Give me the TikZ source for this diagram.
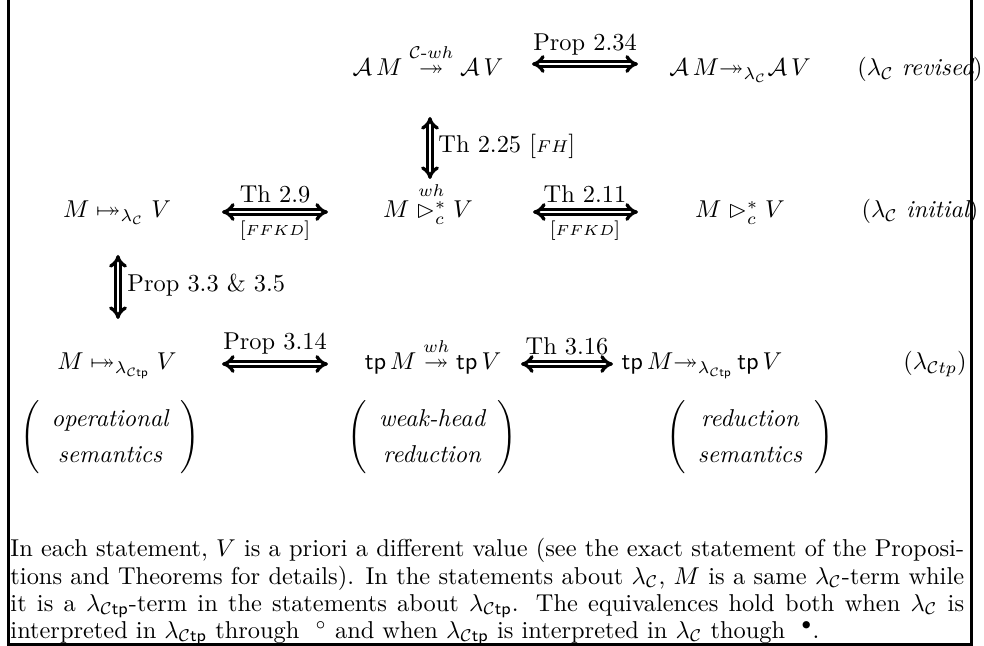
\documentclass[tikz,border=0pt]{standalone}
\usepackage{amsmath,amssymb}
\usetikzlibrary{arrows.meta}
\newcommand{\lamC}{\lambda_{\mathcal{C}}}
\newcommand{\lamCtp}{\lambda_{\mathcal{C}\mathsf{tp}}}
\newcommand{\twomapsto}{\mathrel{\mapstochar\twoheadrightarrow}}
\newcommand{\refl}[1]{{\footnotesize$[{\scriptstyle #1}]$}}
\tikzset{
  txt/.style={inner sep=0pt, anchor=base},
  lbl/.style={inner sep=0pt, anchor=base west},
  eqarr/.style={double, double distance=0.9pt, line width=1.35pt, {Implies}-{Implies}},
  paren/.style={inner sep=0pt, anchor=center},
  frame/.style={line width=1.2pt}
}
\begin{document}
\begin{tikzpicture}[x=0.41pt,y=-0.41pt]
\useasboundingbox (0,0) rectangle (984,646);
% row 1
\node[txt] (r1c3) at (428,76) {$\mathcal{A}\,M \stackrel{\mathcal{C}\text{-}wh}{\twoheadrightarrow} \mathcal{A}\,V$};
\node[txt] (r1c5) at (740,76) {$\mathcal{A}\,M{\twoheadrightarrow_{\lamC}}\mathcal{A}\,V$};
\node[txt] (r1c6) at (920,76) {$(\lamC~\textit{revised})$};
\coordinate (a1l) at (532,64); \coordinate (a1r) at (638,64);
\draw[eqarr] (a1l) -- (a1r);
\node[txt] (l1) at (585,51) {Prop 2.34};
% vertical Th 2.25
\coordinate (v1t) at (430,117); \coordinate (v1b) at (430,179);
\draw[eqarr] (v1t) -- (v1b);
\node[lbl] (lv1) at (438,153) {Th 2.25 $[{\scriptstyle FH}]$};
% row 2
\node[txt] (r2c1) at (117,218) {$M \twomapsto_{\lamC} V$};
\coordinate (a2l) at (222,212); \coordinate (a2r) at (328,212);
\draw[eqarr] (a2l) -- (a2r);
\node[txt] (l2a) at (275,203) {Th 2.9};
\node[txt] (l2b) at (275,236) {\refl{FFKD}};
\node[txt] (r2c3) at (428,218) {$M \stackrel{wh}{\rhd^*_c} V$};
\coordinate (a3l) at (533,212); \coordinate (a3r) at (638,212);
\draw[eqarr] (a3l) -- (a3r);
\node[txt] (l3a) at (585,203) {Th 2.11};
\node[txt] (l3b) at (585,236) {\refl{FFKD}};
\node[txt] (r2c5) at (740,218) {$M \mathrel{\rhd^*_c} V$};
\node[txt] (r2c6) at (920,218) {$(\lamC~\textit{initial})$};
% vertical Prop 3.3
\coordinate (v2t) at (118,255); \coordinate (v2b) at (118,319);
\draw[eqarr] (v2t) -- (v2b);
\node[lbl] (lv2) at (127,292) {Prop 3.3 \& 3.5};
% row 3
\node[txt] (r3c1) at (117,370) {$M \twomapsto_{\lamCtp} V$};
\coordinate (a4l) at (222,364); \coordinate (a4r) at (328,364);
\draw[eqarr] (a4l) -- (a4r);
\node[txt] (l4) at (275,350) {Prop 3.14};
\node[txt] (r3c3) at (433,370) {$\mathsf{tp}\,M \stackrel{wh}{\twoheadrightarrow} \mathsf{tp}\,V$};
\coordinate (a5l) at (521,364); \coordinate (a5r) at (613,364);
\draw[eqarr] (a5l) -- (a5r);
\node[txt] (l5) at (567,355) {Th 3.16};
\node[txt] (r3c5) at (702,370) {$\mathsf{tp}\,M{\twoheadrightarrow_{\lamCtp}}\,\mathsf{tp}\,V$};
\node[txt] (r3c6) at (935,370) {$(\lambda_{\mathcal{C}tp})$};
% parenthesised captions
\node[paren] (p1) at (110,437) {\def\arraystretch{1.25}$\left(\begin{array}{c}\textit{operational}\\ \textit{semantics}\end{array}\right)$};
\node[paren] (p2) at (432,437) {\def\arraystretch{1.25}$\left(\begin{array}{c}\textit{weak-head}\\ \textit{reduction}\end{array}\right)$};
\node[paren] (p3) at (750,437) {\def\arraystretch{1.25}$\left(\begin{array}{c}\textit{reduction}\\ \textit{semantics}\end{array}\right)$};
% paragraph
\node[inner sep=0pt, anchor=base west, text width=391pt, align=justify] (para) at (10,557) {\fontsize{10}{11.1}\selectfont
In each statement, $V$ is a priori a different value (see the exact statement of the Proposi-\linebreak
tions and Theorems for details). In the statements about $\lamC$, $M$ is a same $\lamC$-term while\linebreak
it is a $\lamCtp$-term in the statements about $\lamCtp$. The equivalences hold both when $\lamC$ is\linebreak
interpreted in $\lamCtp$ through \ ${}^{\circ}$ and when $\lamCtp$ is interpreted in $\lamC$ though \ ${}^{\bullet}$.\par};
% frame
\coordinate (fTL) at (8.5,-5); \coordinate (fBL) at (8.5,644.5);
\coordinate (fBR) at (971.5,644.5); \coordinate (fTR) at (971.5,-5);
\draw[frame] (fTL) -- (fBL) -- (fBR) -- (fTR);
\end{tikzpicture}
\end{document}
